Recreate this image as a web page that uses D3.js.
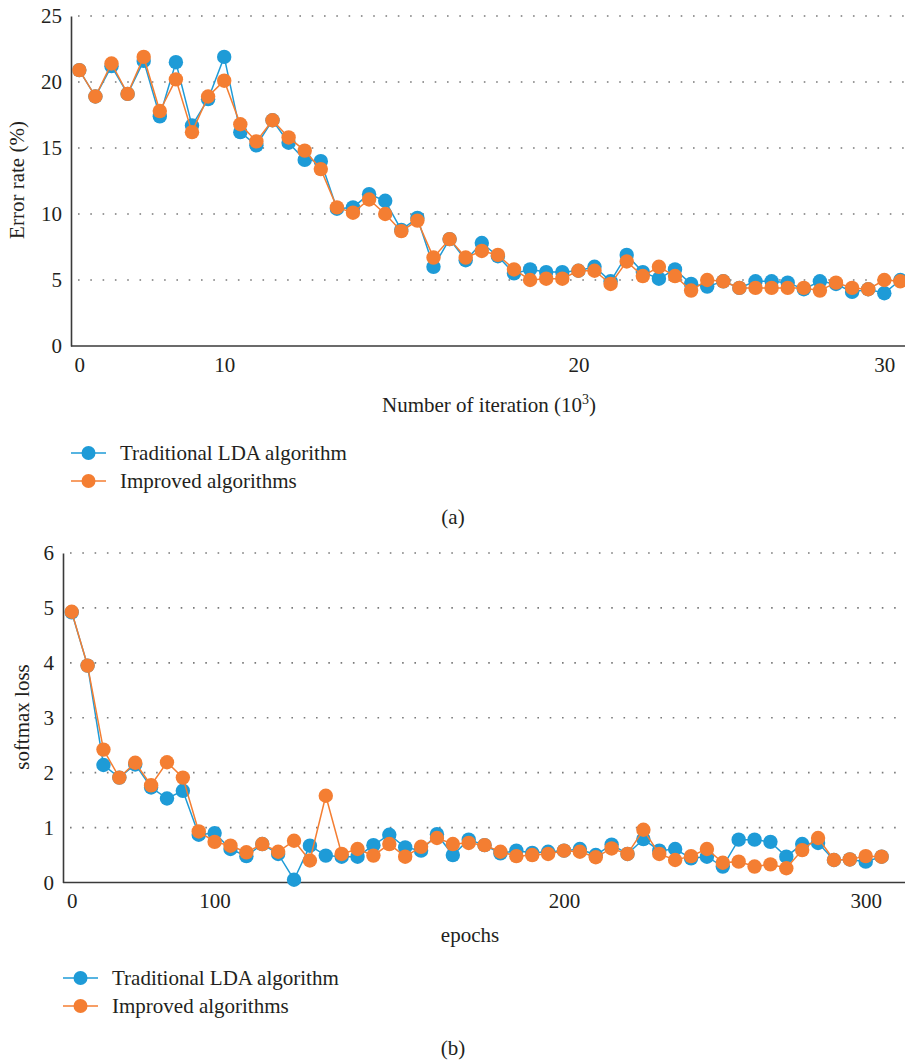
<!DOCTYPE html>
<html>
<head>
<meta charset="utf-8">
<script src="https://cdn.jsdelivr.net/npm/d3@7"></script>
<style>
	body { margin: 0; background: #fff; }
	svg { display: block; }
	text { font-family: "Liberation Serif", "DejaVu Serif", serif; fill: #231f20; }
	.tick text { font-size: 21px; }
	.axis-line { stroke: #3a3a3a; stroke-width: 1.6; }
	.grid { stroke: #7a7a7a; stroke-width: 1.6; stroke-dasharray: 1.6 10.7; }
	.label { font-size: 21px; }
	.legend { font-size: 21px; }
</style>
</head>
<body>
<svg id="vis" width="905" height="1060"></svg>
<script>
var COLORS = { trad: "#1e9bd7", impr: "#f47e32" };
var SERIES_NAMES = ["Traditional LDA algorithm", "Improved algorithms"];
var FONT = "'Liberation Serif', 'DejaVu Serif', serif";

// x positions of the tick labels are category indexes
var X_TICK_INDEX = [0, 9, 31, 50];

// (a) error rate
var ERR_X_LABELS = ["0", "10", "20", "30"];
var ERR_Y_TICKS = [0, 5, 10, 15, 20, 25];
var ERR_TRAD = [20.9, 18.9, 21.2, 19.1, 21.6, 17.4, 21.5, 16.7, 18.7, 21.9,
                16.2, 15.2, 17.1, 15.4, 14.1, 14.0, 10.4, 10.5, 11.5, 11.0,
                8.8, 9.7, 6.0, 8.1, 6.5, 7.8, 6.8, 5.5, 5.8, 5.6,
                5.6, 5.7, 6.0, 4.9, 6.9, 5.6, 5.1, 5.8, 4.7, 4.5,
                4.9, 4.4, 4.9, 4.9, 4.8, 4.3, 4.9, 4.7, 4.1, 4.3,
                4.0, 5.0];
var ERR_IMPR = [20.9, 18.9, 21.4, 19.1, 21.9, 17.8, 20.2, 16.2, 18.9, 20.1,
                16.8, 15.5, 17.1, 15.8, 14.8, 13.4, 10.5, 10.1, 11.1, 10.0,
                8.7, 9.5, 6.7, 8.1, 6.7, 7.2, 6.9, 5.8, 5.0, 5.1,
                5.1, 5.7, 5.7, 4.7, 6.4, 5.3, 6.0, 5.3, 4.2, 5.0,
                4.9, 4.4, 4.4, 4.4, 4.4, 4.4, 4.2, 4.8, 4.4, 4.3,
                5.0, 4.9];

// (b) softmax loss
var LOSS_X_LABELS = ["0", "100", "200", "300"];
var LOSS_Y_TICKS = [0, 1, 2, 3, 4, 5, 6];
var LOSS_TRAD = [4.92, 3.95, 2.14, 1.91, 2.15, 1.73, 1.53, 1.67, 0.87, 0.90,
                 0.61, 0.48, 0.70, 0.52, 0.05, 0.67, 0.49, 0.47, 0.47, 0.68,
                 0.87, 0.64, 0.58, 0.88, 0.50, 0.78, 0.68, 0.53, 0.58, 0.54,
                 0.56, 0.58, 0.61, 0.50, 0.69, 0.52, 0.79, 0.58, 0.61, 0.44,
                 0.47, 0.29, 0.78, 0.78, 0.74, 0.47, 0.70, 0.72, 0.41, 0.42,
                 0.38, 0.47];
var LOSS_IMPR = [4.93, 3.95, 2.42, 1.91, 2.18, 1.77, 2.19, 1.91, 0.93, 0.74,
                 0.67, 0.55, 0.70, 0.56, 0.76, 0.40, 1.58, 0.52, 0.61, 0.49,
                 0.70, 0.47, 0.65, 0.81, 0.70, 0.72, 0.68, 0.56, 0.48, 0.50,
                 0.52, 0.58, 0.56, 0.46, 0.62, 0.52, 0.96, 0.52, 0.41, 0.48,
                 0.61, 0.36, 0.38, 0.29, 0.33, 0.26, 0.59, 0.81, 0.41, 0.42,
                 0.48, 0.47];

class LineChart {
	constructor(svg, cfg) {
		this.svg = svg;
		this.cfg = cfg;
		this.xScale = d3.scaleLinear().domain([0, cfg.trad.length - 1])
		                              .range([cfg.x0, cfg.x1]);
		this.yScale = d3.scaleLinear().domain([0, d3.max(cfg.yTicks)])
		                              .range([cfg.yBottom, cfg.yTop]);
	}

	draw() {
		var cfg = this.cfg;
		var g = this.svg.append("g");

		// dotted grid
		g.selectAll(".grid")
		 .data(cfg.yTicks.filter(d => d > 0))
		 .enter()
		 .append("line")
		 .attr("class", "grid")
		 .attr("x1", cfg.axisX + 7)
		 .attr("x2", 905)
		 .attr("y1", d => this.yScale(d))
		 .attr("y2", d => this.yScale(d));

		// y axis
		var yAxis = g.append("g")
		             .attr("transform", "translate(" + cfg.axisX + ",0)")
		             .call(d3.axisLeft(this.yScale)
		                     .tickValues(cfg.yTicks)
		                     .tickFormat(d3.format("d"))
		                     .tickSize(0)
		                     .tickPadding(9));
		yAxis.attr("font-family", FONT).attr("font-size", 21);
		yAxis.select(".domain").attr("class", "axis-line").attr("fill", "none");

		// x axis
		g.append("line")
		 .attr("class", "axis-line")
		 .attr("x1", cfg.axisX)
		 .attr("x2", 905)
		 .attr("y1", cfg.yBottom)
		 .attr("y2", cfg.yBottom);

		var xAxis = g.append("g")
		             .attr("transform", "translate(0," + cfg.yBottom + ")")
		             .call(d3.axisBottom(this.xScale)
		                     .tickValues(X_TICK_INDEX)
		                     .tickFormat((d, i) => cfg.xLabels[i])
		                     .tickSize(0)
		                     .tickPadding(11));
		xAxis.attr("font-family", FONT).attr("font-size", 21);
		xAxis.select(".domain").remove();
		this.svg.selectAll(".tick text").attr("fill", "#231f20");

		// series, blue first so orange sits on top
		var series = [
			{ key: "trad", values: cfg.trad },
			{ key: "impr", values: cfg.impr }
		];
		var line = d3.line()
		             .x((d, i) => this.xScale(i))
		             .y(d => this.yScale(d));
		series.forEach(s => {
			g.append("path")
			 .datum(s.values)
			 .attr("fill", "none")
			 .attr("stroke", COLORS[s.key])
			 .attr("stroke-width", 1.5)
			 .attr("d", line);
			g.selectAll(".dot-" + s.key)
			 .data(s.values)
			 .enter()
			 .append("circle")
			 .attr("class", "dot-" + s.key)
			 .attr("cx", (d, i) => this.xScale(i))
			 .attr("cy", d => this.yScale(d))
			 .attr("r", 7.2)
			 .attr("fill", COLORS[s.key]);
		});

		// y title
		g.append("text")
		 .attr("class", "label")
		 .attr("text-anchor", "middle")
		 .attr("transform", "translate(" + cfg.yTitleX + "," + cfg.yTitleY + ") rotate(270)")
		 .text(cfg.yTitle);

		// x title
		var xt = g.append("text")
		          .attr("class", "label")
		          .attr("text-anchor", "middle")
		          .attr("x", cfg.xTitleX)
		          .attr("y", cfg.xTitleY);
		cfg.xTitle.forEach(part => {
			xt.append("tspan")
			  .attr("dy", part.dy || 0)
			  .attr("font-size", part.small ? 14 : null)
			  .text(part.t);
		});

		this.drawLegend(g);

		// caption
		g.append("text")
		 .attr("class", "label")
		 .attr("text-anchor", "middle")
		 .attr("x", 453)
		 .attr("y", cfg.captionY)
		 .text(cfg.caption);
	}

	drawLegend(g) {
		var cfg = this.cfg;
		var items = g.selectAll(".legend-item")
		             .data([{ key: "trad", name: SERIES_NAMES[0] }, { key: "impr", name: SERIES_NAMES[1] }])
		             .enter()
		             .append("g")
		             .attr("transform", (d, i) => "translate(" + cfg.legendX + "," + (cfg.legendY + i * 28) + ")");
		items.append("line")
		     .attr("x1", 0)
		     .attr("x2", 35)
		     .attr("stroke", d => COLORS[d.key])
		     .attr("stroke-width", 1.5);
		items.append("circle")
		     .attr("cx", 17.5)
		     .attr("r", 7)
		     .attr("fill", d => COLORS[d.key]);
		items.append("text")
		     .attr("class", "legend")
		     .attr("x", 49)
		     .attr("y", 7)
		     .text(d => d.name);
	}
}

var svg = d3.select("#vis");

new LineChart(svg, {
	trad: ERR_TRAD, impr: ERR_IMPR,
	yTicks: ERR_Y_TICKS, xLabels: ERR_X_LABELS,
	x0: 79.3, x1: 900.4, axisX: 71, yTop: 16, yBottom: 346,
	yTitle: "Error rate (%)", yTitleX: 24, yTitleY: 180,
	xTitle: [{ t: "Number of iteration (10" }, { t: "3", dy: -8, small: true }, { t: ")", dy: 8 }],
	xTitleX: 489, xTitleY: 412,
	legendX: 71, legendY: 453,
	caption: "(a)", captionY: 524
}).draw();

new LineChart(svg, {
	trad: LOSS_TRAD, impr: LOSS_IMPR,
	yTicks: LOSS_Y_TICKS, xLabels: LOSS_X_LABELS,
	x0: 71.7, x1: 881.6, axisX: 63, yTop: 553, yBottom: 882.5,
	yTitle: "softmax loss", yTitleX: 29, yTitleY: 717,
	xTitle: [{ t: "epochs" }],
	xTitleX: 470, xTitleY: 942,
	legendX: 63, legendY: 978,
	caption: "(b)", captionY: 1055
}).draw();
</script>
</body>
</html>
